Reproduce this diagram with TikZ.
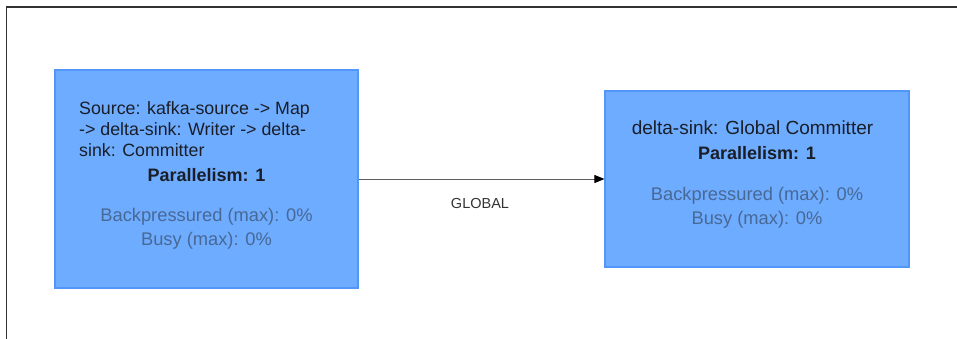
\documentclass[tikz,border=0pt]{standalone}
\usepackage{fontspec}
\setmainfont{Liberation Sans}
\usetikzlibrary{arrows.meta}
\definecolor{boxfill}{RGB}{110,172,255}
\definecolor{boxline}{RGB}{82,150,250}
\definecolor{titletext}{RGB}{25,30,40}
\definecolor{stattext}{RGB}{72,104,150}
\definecolor{framecol}{RGB}{50,50,50}
\definecolor{edgecol}{RGB}{95,95,95}
\tikzset{
  opbox/.style={draw=boxline, line width=1.2pt, fill=boxfill, rectangle, inner sep=0pt},
  titlelines/.style={font=\fontsize{17.8}{21}\selectfont, text=titletext, align=left, inner sep=0pt, anchor=west},
  titleone/.style={font=\fontsize{19}{21}\selectfont, text=titletext, inner sep=0pt},
  parbold/.style={font=\fontsize{18}{21}\selectfont\bfseries, text=titletext, inner sep=0pt},
  stat/.style={font=\fontsize{18.3}{24}\selectfont, text=stattext, inner sep=0pt, align=center},
  edgelabel/.style={font=\fontsize{14.5}{16}\selectfont, text=black!80, inner sep=0pt},
  flow/.style={draw=edgecol, line width=1pt, -{Triangle[length=10pt,width=8pt,color=black]}}
}
\begin{document}
\begin{tikzpicture}[x=1pt,y=-1pt]
\useasboundingbox (0,0) rectangle (957,339);
\fill[white] (0,0) rectangle (957,339);
\draw[framecol, line width=1.5pt] (6.5,339) -- (6.5,7) -- (957,7);
\node[opbox, minimum width=303pt, minimum height=218pt] (src) at (206.5,179) {};
\node[opbox, minimum width=304pt, minimum height=176pt] (gc) at (757,179) {};
\node[titlelines] (srct) at (79,129) {Source: kafka-source -> Map\\-> delta-sink: Writer -> delta-\\sink: Committer};
\node[parbold] (srcp) at (206.5,175) {Parallelism: 1};
\node[stat] (srcs) at (206.5,229) {Backpressured (max): 0\%\\Busy (max): 0\%};
\node[titleone] (gct) at (752.5,128) {delta-sink: Global Committer};
\node[parbold] (gcp) at (757,153) {Parallelism: 1};
\node[stat] (gcs) at (757,207.5) {Backpressured (max): 0\%\\Busy (max): 0\%};
\draw[flow] (src.east) -- (gc.west);
\node[edgelabel] (lbl) at (480,204) {GLOBAL};
\end{tikzpicture}
\end{document}
